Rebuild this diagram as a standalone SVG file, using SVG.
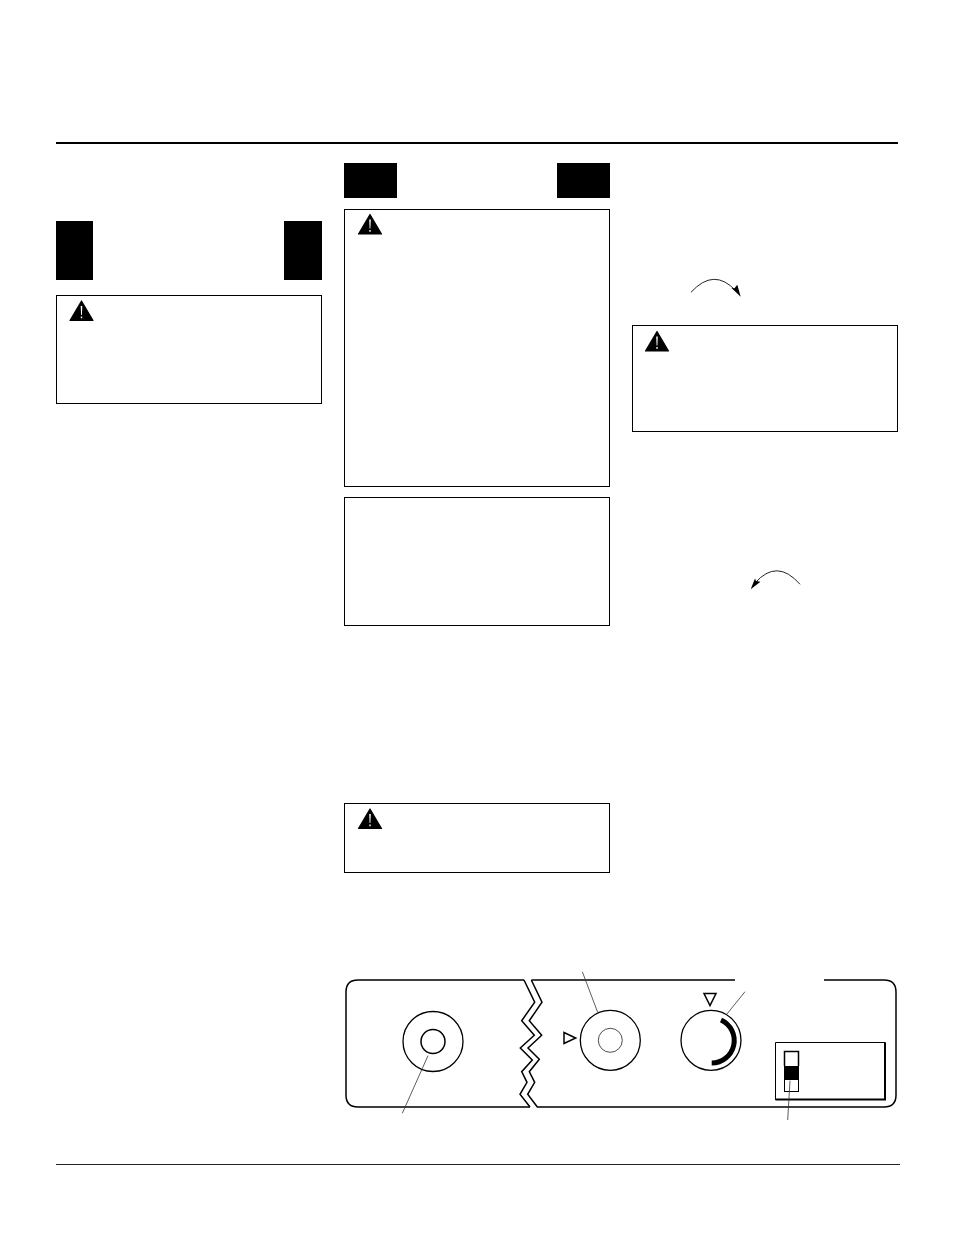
<svg xmlns="http://www.w3.org/2000/svg" width="954" height="1235" viewBox="0 0 954 1235">
<style>
.box{fill:#fff;stroke:#000;stroke-width:1}
.bar{fill:#000}
.ln{fill:none;stroke:#000;stroke-width:1.5}
.ring{fill:none;stroke:#000;stroke-width:1.3}
.thin{fill:none;stroke:#000;stroke-width:1}
.fine{fill:none;stroke:#222;stroke-width:.8}
.lead{fill:none;stroke:#333;stroke-width:.8}
.arc{fill:none;stroke:#222;stroke-width:1}
</style>
<defs>
<g id="warn">
<path d="M11.5 0.5 L23 20 L0 20 Z" fill="#000" stroke="#000" stroke-width="1.2" stroke-linejoin="round"/>
<path d="M10.7 5.5 L12.3 5.5 L11.9 14.5 L11.1 14.5 Z" fill="#fff"/>
<rect x="10.8" y="16" width="1.4" height="1.8" fill="#fff"/>
</g>
</defs>
<rect width="954" height="1235" fill="#fff"/>
<g id="rules">
<rect x="56" y="142" width="842" height="2" class="bar"/>
<rect x="56" y="1164" width="844" height="1" fill="#222"/>
</g>
<g id="bars">
<rect x="56" y="221" width="37" height="59" class="bar"/>
<rect x="284" y="221" width="38" height="59" class="bar"/>
<rect x="344" y="163" width="53" height="35" class="bar"/>
<rect x="557" y="163" width="53" height="35" class="bar"/>
</g>
<g id="box1"><rect x="56.5" y="295.5" width="265" height="108" class="box"/><use href="#warn" x="70" y="300.5"/></g>
<g id="box2"><rect x="344.5" y="209.5" width="265" height="277" class="box"/><use href="#warn" x="358.5" y="214"/></g>
<g id="box3"><rect x="344.5" y="497.5" width="265" height="128" class="box"/></g>
<g id="box4"><rect x="344.5" y="803.5" width="265" height="69" class="box"/><use href="#warn" x="358.5" y="808.5"/></g>
<g id="box5"><rect x="632.5" y="325.5" width="265" height="106" class="box"/><use href="#warn" x="645.5" y="331"/></g>
<g id="arrow1">
<path d="M691 292.3 Q714 267 736 291" class="arc"/>
<path d="M740.7 296.7 L731.5 288 L734.5 288.3 L737.3 284.8 Z" fill="#000"/>
</g>
<g id="arrow2">
<path d="M800 584.3 Q777 558 755 583" class="arc"/>
<path d="M750.7 589.3 L755 578.5 L756 581 L760.5 581.7 Z" fill="#000"/>
</g>
<g id="panel">
<path d="M524 980 L358 980 Q346 980 346 992 L346 1095 Q346 1107 358 1107 L530 1107" class="ln"/>
<path d="M531.5 980 L735 980 M824 980 L884 980 Q896 980 896 992 L896 1095 Q896 1107 884 1107 L537 1107" class="ln"/>
<polyline points="524,980 534.7,1002.3 521.7,1020.7 534.3,1035.3 520.3,1048 532.3,1060 521.7,1071.7 527,1082.3 520,1094.3 530,1107" class="ln"/>
<polyline points="531.3,980 542,1002.3 529.3,1020.7 541.7,1035.3 528,1048 539.3,1059.3 529.3,1071.7 534.7,1082.3 527.7,1094.3 537.3,1107" class="ln"/>
</g>
<g id="left-knob">
<circle cx="433" cy="1041.5" r="30" class="ring"/>
<circle cx="433" cy="1041.5" r="12" class="ln"/>
</g>
<g id="mid-knob">
<circle cx="610.3" cy="1040.3" r="30" class="ring"/>
<circle cx="610.3" cy="1040.3" r="12" class="fine"/>
<polygon points="564,1032.5 564,1043.5 575.7,1038" class="ln"/>
</g>
<g id="right-knob">
<circle cx="711" cy="1040.3" r="30" class="ring"/>
<polygon points="704,993.5 716,993.5 710,1005.5" class="ln"/>
<path d="M721 1020 A22.5 22.5 0 0 1 711.7 1063" fill="none" stroke="#000" stroke-width="5"/>
</g>
<g id="switch">
<path d="M775.5 1100 L775.5 1042.5 L885.5 1042.5" class="thin"/>
<path d="M885 1042.5 L885 1099.5 L775.5 1099.5" class="ln" style="stroke-width:2"/>
<rect x="784.5" y="1051.5" width="14" height="40" class="thin"/>
<path d="M784.5 1066 L784.5 1051.5 L798.5 1051.5 L798.5 1066" class="ln"/>
<rect x="784" y="1066" width="15" height="14" class="bar"/>
</g>
<g id="connectors">
<line x1="582.3" y1="971.7" x2="597.7" y2="1012.3" class="lead"/>
<line x1="428" y1="1055.7" x2="402.3" y2="1113.3" class="lead"/>
<line x1="745" y1="991.7" x2="726.7" y2="1014.3" class="lead"/>
<line x1="790" y1="1080.7" x2="787.7" y2="1120" class="lead"/>
</g>
</svg>
